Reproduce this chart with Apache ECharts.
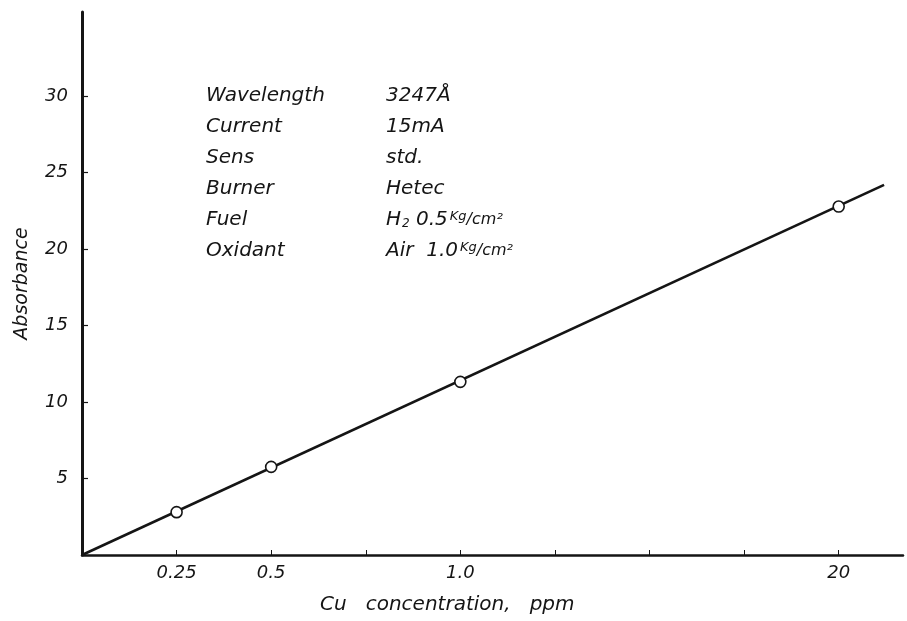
<!DOCTYPE html>
<html>
<head>
<meta charset="utf-8">
<script src="https://cdn.jsdelivr.net/npm/echarts@6/dist/echarts.min.js"></script>
<style>html,body{margin:0;padding:0;background:#fff;}#c{width:907px;height:621px;}</style>
</head>
<body>
<div id="c"></div>
<script>
// Data
var concentration = [0.25, 0.5, 1.0, 2.0];
var absorbance = [2.8, 5.76, 11.32, 22.78];
var fitX = [0, 2.12];
var fitY = [0, 24.2];
var xTickValues = [0.25, 0.5, 0.75, 1.0, 1.25, 1.5, 1.75, 2.0];
var xLabelValues = [0.25, 0.5, 1.0, 2.0];
var xLabelTexts = ['0.25', '0.5', '1.0', '20'];
var yTickValues = [5, 10, 15, 20, 25, 30];
var condLabels = ['Wavelength', 'Current', 'Sens', 'Burner', 'Fuel', 'Oxidant'];
var condValues = ['{t|3247Å}', '{t|15mA}', '{t|std.}', '{t|Hetec}',
  '{t|H}{sub|2}{t| 0.5}{sup|Kg}{sm|/cm²}', '{t|Air  1.0}{sup|Kg}{sm|/cm²}'];

var FONT = 'DejaVu Sans';
var INK = '#151515';

var chart = echarts.init(document.getElementById('c'), null, {renderer: 'canvas'});

var graphics = [];
condLabels.forEach(function (s, i) {
  graphics.push({
    type: 'text', left: 206, top: 86 + i * 31,
    style: {text: s, font: 'italic 20px "' + FONT + '"', fill: INK}
  });
});
condValues.forEach(function (s, i) {
  graphics.push({
    type: 'text', left: 386, top: 86 + i * 31,
    style: {
      text: s, fill: INK,
      rich: {
        t: {fontFamily: FONT, fontStyle: 'italic', fontSize: 20, color: INK},
        sub: {fontFamily: FONT, fontStyle: 'italic', fontSize: 12, color: INK, verticalAlign: 'bottom', padding: [6, 0, 0, 1]},
        sup: {fontFamily: FONT, fontStyle: 'italic', fontSize: 13, color: INK, verticalAlign: 'top', padding: [0, 0, 6, 2]},
        sm: {fontFamily: FONT, fontStyle: 'italic', fontSize: 16, color: INK}
      }
    }
  });
});
graphics.push({
  type: 'text', left: 320, top: 595,
  style: {text: 'Cu   concentration,   ppm', font: 'italic 20px "' + FONT + '"', fill: INK}
});

var option = {
  animation: false,
  backgroundColor: '#fff',
  grid: {left: 82, right: 4, top: 12, bottom: 66, containLabel: false},
  xAxis: {
    type: 'value', min: 0, max: 2.17, interval: 0.25,
    axisLine: {show: true, lineStyle: {color: INK, width: 2.5}},
    axisTick: {show: true, inside: true, length: 5, customValues: xTickValues, lineStyle: {color: INK, width: 1}},
    axisLabel: {
      customValues: xLabelValues, margin: 9,
      fontFamily: FONT, fontStyle: 'italic', fontSize: 18, color: INK,
      formatter: function (v) {
        var i = xLabelValues.indexOf(v);
        return i >= 0 ? xLabelTexts[i] : '';
      }
    },
    splitLine: {show: false}
  },
  yAxis: {
    type: 'value', min: 0, max: 35.5, interval: 5,
    name: 'Absorbance', nameLocation: 'middle', nameGap: 50,
    nameTextStyle: {fontFamily: FONT, fontStyle: 'italic', fontSize: 19, color: INK},
    axisLine: {show: true, lineStyle: {color: INK, width: 3}},
    axisTick: {show: true, inside: true, length: 6, customValues: yTickValues, lineStyle: {color: INK, width: 1.2}},
    axisLabel: {
      customValues: yTickValues, margin: 14,
      fontFamily: FONT, fontStyle: 'italic', fontSize: 18, color: INK
    },
    splitLine: {show: false}
  },
  graphic: graphics,
  series: [
    {
      type: 'line', name: 'fit',
      data: fitX.map(function (x, i) { return [x, fitY[i]]; }),
      showSymbol: false, symbol: 'none',
      lineStyle: {color: INK, width: 2.6}, z: 2
    },
    {
      type: 'scatter', name: 'Cu',
      data: concentration.map(function (x, i) { return [x, absorbance[i]]; }),
      symbol: 'circle', symbolSize: 11,
      itemStyle: {color: '#fff', borderColor: INK, borderWidth: 1.6, opacity: 1}, z: 3
    }
  ]
};
chart.setOption(option);
</script>
</body>
</html>
